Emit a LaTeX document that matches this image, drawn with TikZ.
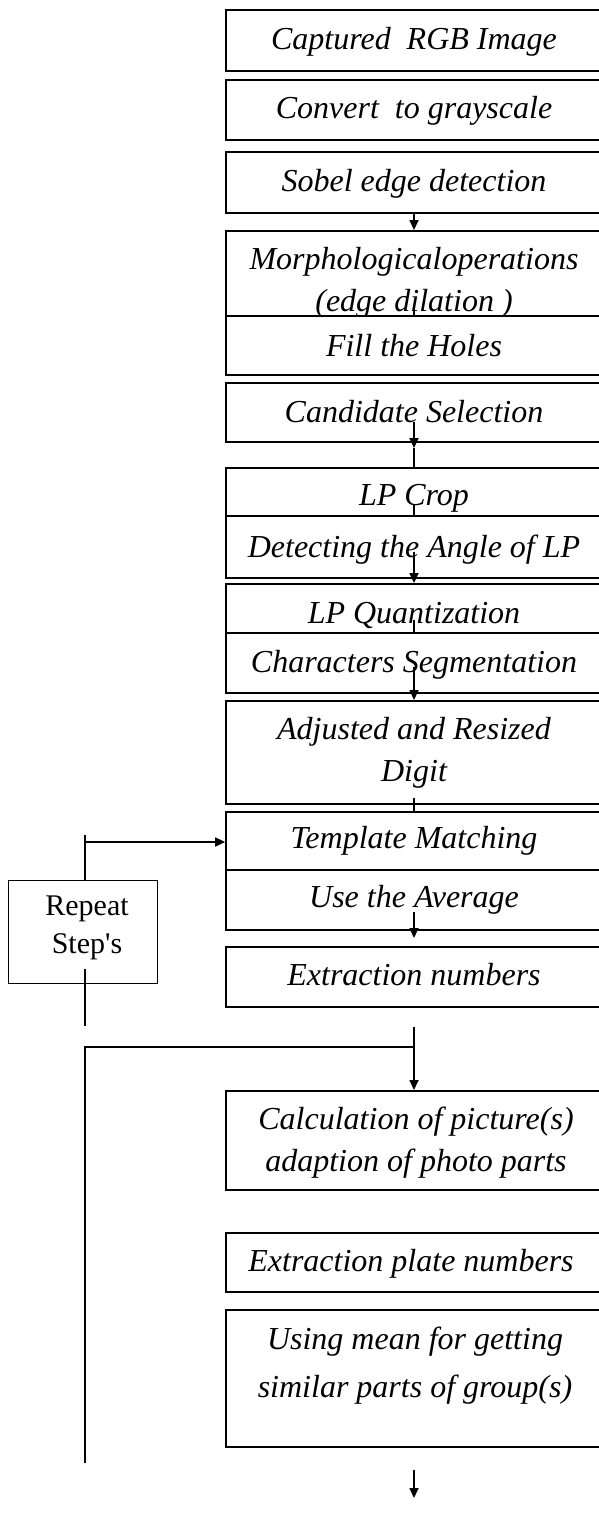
\documentclass[tikz,border=0pt]{standalone}
\usepackage{fontspec}
\setmainfont{Liberation Serif}
\usetikzlibrary{arrows.meta}
\begin{document}
\begin{tikzpicture}[x=1pt,y=-1pt,
  stage/.style={draw, line width=1.7pt, fill=white, minimum width=376pt,
                inner sep=0pt, anchor=north},
  txt/.style={font=\fontsize{32}{38}\selectfont\itshape, inner sep=0pt, anchor=base},
  side/.style={font=\fontsize{30}{36}\selectfont, inner sep=0pt, anchor=base},
  link/.style={line width=1.7pt},
  arr/.style={link, -{Triangle[length=10pt,width=9pt]}}
]
\useasboundingbox (0,0) rectangle (598,1524);

% ---- processing stages (later boxes are painted over earlier ones) ----
\node[stage, minimum height=61pt]  (b1)  at (414,9)    {};
\node[txt] (t1) at (414,49) {Captured\ \ RGB Image};
\node[stage, minimum height=60pt]  (b2)  at (414,79)   {};
\node[txt] (t2) at (414,118) {Convert\ \ to grayscale};
\node[stage, minimum height=61pt]  (b3)  at (414,151)  {};
\node[txt] (t3) at (414,191) {Sobel edge detection};
\node[stage, minimum height=103pt] (b4)  at (414,230)  {};
\node[txt] (t4a) at (414,269) {Morphologicaloperations};
\node[txt] (t4b) at (414,311) {(edge dilation )};
\coordinate (c4) at (414,305);
\draw[link] (c4) -- (414,315);
\node[stage, minimum height=59pt]  (b5)  at (414,315)  {};
\node[txt] (t5) at (414,356) {Fill the Holes};
\node[stage, minimum height=59pt]  (b6)  at (414,382)  {};
\node[txt] (t6) at (414,422) {Candidate Selection};
\node[stage, minimum height=63pt]  (b7)  at (414,467)  {};
\node[txt] (t7) at (414,505) {LP Crop};
\node[stage, minimum height=62pt]  (b8)  at (414,515)  {};
\node[txt] (t8) at (414,557) {Detecting the Angle of LP};
\node[stage, minimum height=60pt]  (b9)  at (414,583)  {};
\node[txt] (t9) at (414,623) {LP Quantization};
\node[stage, minimum height=60pt]  (b10) at (414,632)  {};
\node[txt] (t10) at (414,672) {Characters Segmentation};
\node[stage, minimum height=103pt] (b11) at (414,700)  {};
\node[txt] (t11a) at (414,739) {Adjusted and Resized};
\node[txt] (t11b) at (414,781) {Digit};
\node[stage, minimum height=65pt]  (b12) at (414,811)  {};
\node[txt] (t12) at (414,848) {Template Matching};
\node[stage, minimum height=60pt]  (b13) at (414,869)  {};
\node[txt] (t13) at (414,907) {Use the Average};
\node[stage, minimum height=60pt]  (b14) at (414,946)  {};
\node[txt] (t14) at (414,985) {Extraction numbers};
\node[stage, minimum height=99pt]  (b15) at (414,1090) {};
\node[txt] (t15a) at (416,1129) {Calculation of picture(s)};
\node[txt] (t15b) at (416,1171) {adaption of photo parts};
\node[stage, minimum height=59pt]  (b16) at (414,1232) {};
\node[txt] (t16) at (411,1271) {Extraction plate numbers};
\node[stage, minimum height=137pt] (b17) at (414,1309) {};
\node[txt] (t17a) at (415,1349) {Using mean for getting};
\node[txt] (t17b) at (415,1397) {similar parts of group(s)};

% ---- repeat box on the left ----
\node[draw, line width=1.4pt, minimum width=149pt, minimum height=103pt,
      inner sep=0pt, anchor=north west] (rep) at (8,880) {};
\node[side] (r1) at (87,915) {Repeat};
\node[side] (r2) at (87,953) {Step\textquotesingle s};

% ---- connectors down the main column ----
\draw[arr] (b3.south) -- (b4.north);

\coordinate (c6) at (414,422);
\coordinate (h6) at (414,448);
\draw[arr] (c6) -- (h6);
\draw[link] (h6) -- (b7.north);

\coordinate (c7) at (414,505);
\draw[link] (c7) -- (b8.north);
\coordinate (c8) at (414,552);
\draw[arr] (c8) -- (b9.north);

\coordinate (c9) at (414,620);
\draw[link] (c9) -- (b10.north);
\coordinate (c10) at (414,667);
\draw[arr] (c10) -- (b11.north);

\coordinate (c11) at (414,798);
\draw[link] (c11) -- (b12.north);

\coordinate (c13) at (414,912);
\coordinate (h13) at (414,938);
\draw[arr] (c13) -- (h13);

% ---- feedback loop through the repeat box ----
\coordinate (lt) at (85,835);
\coordinate (lj) at (85,842);
\draw[link] (lt) -- (rep.north -| lt);
\draw[arr] (lj) -- (lj -| b12.west);
\coordinate (lb1) at (85,969);
\coordinate (lb2) at (85,1026);
\draw[link] (lb1) -- (lb2);

\coordinate (jl) at (85,1047);
\coordinate (jr) at (414,1047);
\coordinate (ja) at (414,1027);
\coordinate (lend) at (85,1463);
\draw[link] (lend) -- (jl) -- (jr);
\draw[arr] (ja) -- (b15.north);

% ---- final output arrow ----
\coordinate (o1) at (414,1470);
\coordinate (o2) at (414,1498);
\draw[arr] (o1) -- (o2);
\end{tikzpicture}
\end{document}
